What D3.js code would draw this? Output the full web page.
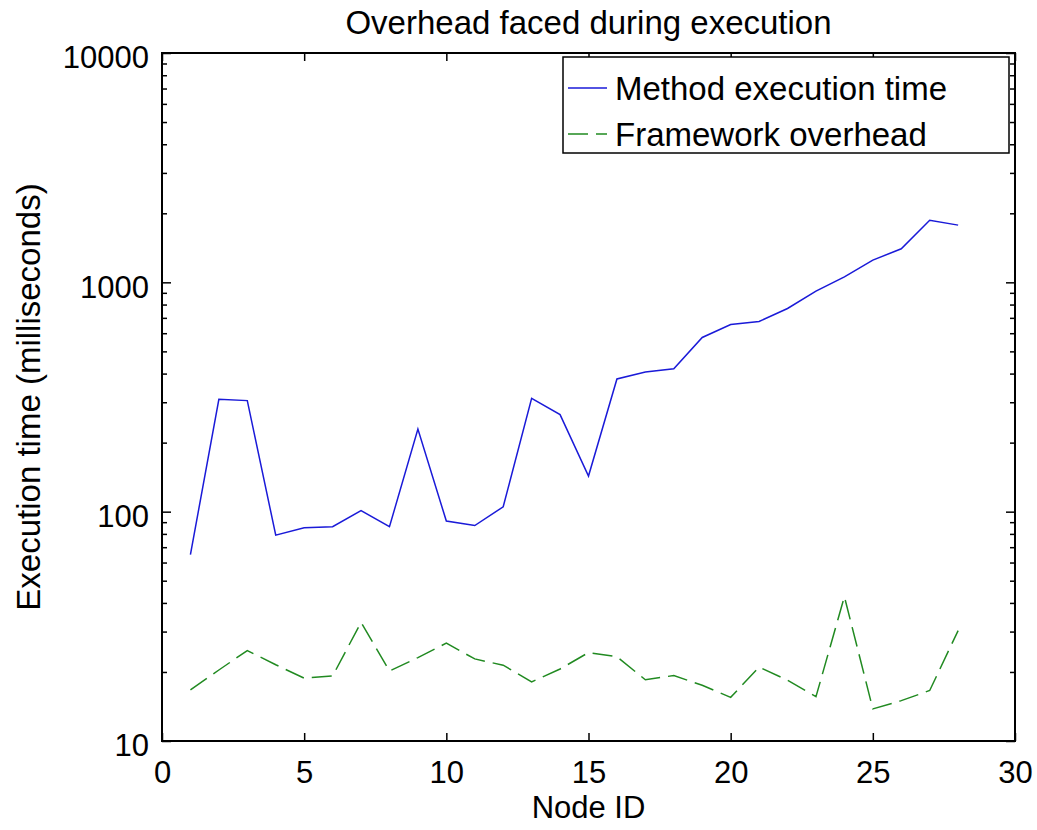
<!DOCTYPE html>
<html>
<head>
<meta charset="utf-8">
<script src="https://cdn.jsdelivr.net/npm/d3@7"></script>
<style>
  body { margin: 0; background: #fff; }
  svg text { font-family: "Liberation Sans", Arial, Helvetica, sans-serif; fill: #000; }
</style>
</head>
<body>
<div id="chart"></div>
<script>
// Node IDs on the x axis
const nodeIds = [1, 2, 3, 4, 5, 6, 7, 8, 9, 10, 11, 12, 13, 14,
                 15, 16, 17, 18, 19, 20, 21, 22, 23, 24, 25, 26, 27, 28];

// Method execution time (ms)
const methodTime = [65, 309, 305, 79, 85, 86, 101, 86, 229, 91, 87, 105, 312, 265,
                    143, 379, 406, 420, 575, 655, 675, 769, 915, 1057, 1250, 1400, 1866, 1776];

// Framework overhead (ms)
const overhead = [16.7, 20.4, 24.8, 21.5, 18.8, 19.2, 32.9, 20.2, 23.1, 26.7, 22.8, 21.4, 18.1, 20.6,
                  24.3, 23.3, 18.5, 19.3, 17.5, 15.5, 21.0, 18.4, 15.6, 42.6, 13.8, 15.0, 16.6, 30.3];

const xTicks = [0, 5, 10, 15, 20, 25, 30];
const yMajor = [10, 100, 1000, 10000];
const yMinor = [20, 30, 40, 50, 60, 70, 80, 90,
                200, 300, 400, 500, 600, 700, 800, 900,
                2000, 3000, 4000, 5000, 6000, 7000, 8000, 9000];

const seriesNames = ["Method execution time", "Framework overhead"];

const width = 1037, height = 830;
const margin = {top: 53, right: 22, bottom: 89, left: 162};
const innerWidth = width - margin.left - margin.right;
const innerHeight = height - margin.top - margin.bottom;

const svg = d3.select("#chart").append("svg")
    .attr("width", width)
    .attr("height", height);

const g = svg.append("g").attr("transform", `translate(${margin.left},${margin.top})`);

const x = d3.scaleLinear().domain([0, 30]).range([0, innerWidth]);
const y = d3.scaleLog().domain([10, 10000]).range([innerHeight, 0]);

// ticks, all pointing inward
function styleTicks(sel) {
    sel.attr("font-size", 31).attr("font-family", null);
    sel.select(".domain").remove();
    sel.selectAll(".tick line").attr("stroke", "#000").attr("stroke-width", 1.5);
}
function noLabels(sel) {
    sel.selectAll(".tick text").remove();
}

g.append("g")
    .attr("transform", `translate(0,${innerHeight})`)
    .call(d3.axisBottom(x).tickValues(xTicks).tickSize(-8).tickPadding(20).tickFormat(d3.format("d")))
    .call(styleTicks);

g.append("g")
    .call(d3.axisTop(x).tickValues(xTicks).tickSize(-8))
    .call(styleTicks).call(noLabels);

g.append("g")
    .call(d3.axisLeft(y).tickValues(yMajor).tickSize(-9).tickPadding(13).tickFormat(d3.format("d")))
    .call(styleTicks)
    .call(s => s.selectAll(".tick text").attr("y", 5));

g.append("g")
    .call(d3.axisLeft(y).tickValues(yMinor).tickSize(-5))
    .call(styleTicks).call(noLabels);

g.append("g")
    .attr("transform", `translate(${innerWidth},0)`)
    .call(d3.axisRight(y).tickValues(yMajor).tickSize(-9))
    .call(styleTicks).call(noLabels);

g.append("g")
    .attr("transform", `translate(${innerWidth},0)`)
    .call(d3.axisRight(y).tickValues(yMinor).tickSize(-5))
    .call(styleTicks).call(noLabels);

// the box
g.append("rect")
    .attr("width", innerWidth)
    .attr("height", innerHeight)
    .attr("fill", "none")
    .attr("stroke", "#000")
    .attr("stroke-width", 2);

// lines
const line = d3.line()
    .x((d, i) => x(nodeIds[i]))
    .y(d => y(d));

g.append("path")
    .datum(methodTime)
    .attr("d", line)
    .attr("fill", "none")
    .attr("stroke", "#1a1ad8")
    .attr("stroke-width", 1.5);

g.append("path")
    .datum(overhead)
    .attr("d", line)
    .attr("fill", "none")
    .attr("stroke", "#218a21")
    .attr("stroke-width", 1.5)
    .attr("stroke-dasharray", "20,8");

// title and axis labels
svg.append("text")
    .attr("x", margin.left + innerWidth / 2)
    .attr("y", 34)
    .attr("text-anchor", "middle")
    .attr("font-size", 33)
    .text("Overhead faced during execution");

svg.append("text")
    .attr("x", margin.left + innerWidth / 2)
    .attr("y", 818)
    .attr("text-anchor", "middle")
    .attr("font-size", 31)
    .text("Node ID");

svg.append("text")
    .attr("transform", `translate(40,${margin.top + innerHeight / 2}) rotate(-90)`)
    .attr("text-anchor", "middle")
    .attr("font-size", 33)
    .text("Execution time (milliseconds)");

// legend
const legend = svg.append("g").attr("transform", "translate(563,57)");
legend.append("rect")
    .attr("width", 446)
    .attr("height", 96)
    .attr("fill", "#fff")
    .attr("stroke", "#000")
    .attr("stroke-width", 1.5);

const legendStyles = [
    {color: "#1a1ad8", dash: null},
    {color: "#218a21", dash: "20,8"}
];

seriesNames.forEach((name, i) => {
    const ly = 31 + i * 46;
    legend.append("line")
        .attr("x1", 5).attr("x2", 44)
        .attr("y1", ly).attr("y2", ly)
        .attr("stroke", legendStyles[i].color)
        .attr("stroke-width", 1.5)
        .attr("stroke-dasharray", legendStyles[i].dash);
    legend.append("text")
        .attr("x", 52)
        .attr("y", ly + 12)
        .attr("font-size", 33)
        .text(name);
});
</script>
</body>
</html>
